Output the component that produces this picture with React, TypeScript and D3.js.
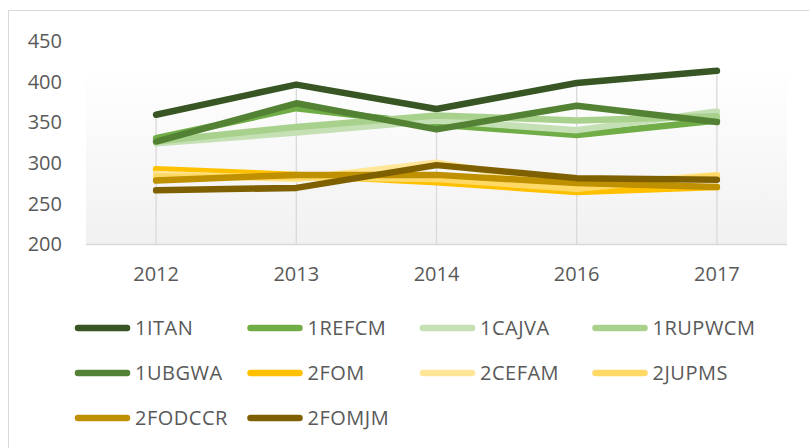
import React, { useEffect, useRef } from 'react';
import * as d3 from 'd3';

const years = ['2012', '2013', '2014', '2016', '2017'];
const seriesNames = ['1ITAN', '1REFCM', '1CAJVA', '1RUPWCM', '1UBGWA', '2FOM', '2CEFAM', '2JUPMS', '2FODCCR', '2FOMJM'];
const seriesColors = ['#375623', '#70ad47', '#c5e0b4', '#a9d18e', '#548235', '#ffc000', '#ffe699', '#ffd966', '#bf9000', '#7f6000'];

const ITAN = [359, 396, 366, 398, 413];
const REFCM = [330, 367, 347, 334, 352];
const CAJVA = [324, 337, 352, 340, 363];
const RUPWCM = [326, 344, 358, 352, 357];
const UBGWA = [326, 373, 341, 370, 350];
const FOM = [292, 285, 276, 264, 270];
const CEFAM = [286, 280, 300, 272, 285];
const JUPMS = [283, 282, 280, 268, 284];
const FODCCR = [278, 285, 285, 275, 270];
const FOMJM = [266, 269, 297, 281, 279];

const seriesValues = [ITAN, REFCM, CAJVA, RUPWCM, UBGWA, FOM, CEFAM, JUPMS, FODCCR, FOMJM];
const yTicks = [200, 250, 300, 350, 400, 450];

const App = () => {
  const svgRef = useRef<SVGSVGElement>(null);

  useEffect(() => {
    const svg = d3.select(svgRef.current);
    svg.selectAll('*').remove();

    const width = 809;
    const height = 448;
    const plot = { left: 86, right: 787, top: 40.7, bottom: 244 };

    const x = d3.scaleBand().domain(years).range([plot.left, plot.right]);
    const y = d3.scaleLinear().domain([200, 450]).range([plot.bottom, plot.top]);
    const cx = (d: string) => (x(d) as number) + x.bandwidth() / 2;

    svg.attr('width', width).attr('height', height).style('font-family', "'Open Sans', sans-serif");

    // chart border (runs off the picture on the right and bottom)
    svg.append('rect')
      .attr('x', 8.5).attr('y', 10.5)
      .attr('width', 830).attr('height', 470)
      .attr('fill', '#fff').attr('stroke', '#d9d9d9');

    // plot area gradient
    const grad = svg.append('defs').append('linearGradient')
      .attr('id', 'plotbg').attr('x1', 0).attr('y1', 0).attr('x2', 0).attr('y2', 1);
    grad.append('stop').attr('offset', '0%').attr('stop-color', '#ffffff');
    grad.append('stop').attr('offset', '100%').attr('stop-color', '#f1f1f1');

    svg.append('rect')
      .attr('x', plot.left).attr('y', 66)
      .attr('width', plot.right - plot.left).attr('height', plot.bottom - 66)
      .attr('fill', 'url(#plotbg)');

    // drop lines
    svg.append('g').selectAll('line')
      .data(years)
      .join('line')
      .attr('x1', (d) => cx(d)).attr('x2', (d) => cx(d))
      .attr('y1', (d, i) => y(d3.max(seriesValues, (s) => s[i]) as number))
      .attr('y2', plot.bottom)
      .attr('stroke', '#d9d9d9').attr('stroke-width', 1.3);

    // category axis line
    svg.append('line')
      .attr('x1', plot.left).attr('x2', plot.right)
      .attr('y1', plot.bottom + 0.5).attr('y2', plot.bottom + 0.5)
      .attr('stroke', '#d9d9d9').attr('stroke-width', 1.5);

    // y labels
    svg.append('g').selectAll('text')
      .data(yTicks)
      .join('text')
      .attr('x', 62).attr('y', (d) => y(d))
      .attr('dy', '0.36em')
      .attr('text-anchor', 'end')
      .attr('fill', '#595959')
      .style('font-size', '20px')
      .text((d) => d);

    // x labels
    svg.append('g').selectAll('text')
      .data(years)
      .join('text')
      .attr('x', (d) => cx(d)).attr('y', 274)
      .attr('dy', '0.36em')
      .attr('text-anchor', 'middle')
      .attr('fill', '#595959')
      .style('font-size', '20px')
      .text((d) => d);

    // series lines
    const line = d3.line<number>()
      .x((d, i) => cx(years[i]))
      .y((d) => y(d));

    svg.append('g').selectAll('path')
      .data(seriesValues)
      .join('path')
      .attr('d', (d) => line(d))
      .attr('fill', 'none')
      .attr('stroke', (d, i) => seriesColors[i])
      .attr('stroke-width', 6.5)
      .attr('stroke-linecap', 'round')
      .attr('stroke-linejoin', 'round');

    // legend
    const legend = svg.append('g').selectAll('g')
      .data(seriesNames)
      .join('g')
      .attr('transform', (d, i) => `translate(${75 + (i % 4) * 172.5},${328 + Math.floor(i / 4) * 45})`);

    legend.append('line')
      .attr('x1', 3).attr('x2', 52)
      .attr('stroke', (d, i) => seriesColors[i])
      .attr('stroke-width', 6.5)
      .attr('stroke-linecap', 'round');

    legend.append('text')
      .attr('x', 60).attr('dy', '0.36em')
      .attr('fill', '#595959')
      .style('font-size', '20px')
      .style('letter-spacing', '0.5px')
      .text((d) => d);
  }, []);

  return <svg ref={svgRef} style={{ position: 'absolute', left: 0, top: 0 }} />;
};

export default App;
